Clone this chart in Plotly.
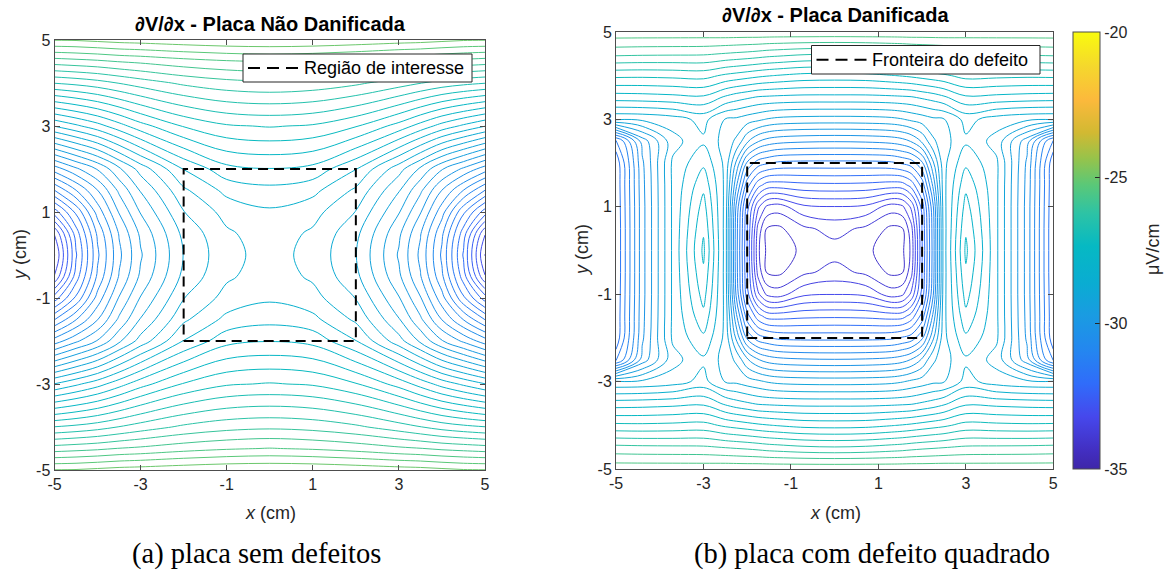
import plotly.graph_objects as go

# ---------------- data (uV/cm) ----------------
# Panel (a): undamaged plate, quadrant x>=0, y>=0 (field is symmetric in x and y)
xa_q = [0, 1, 2, 3, 3.5, 4, 4.5, 5]
ya_q = [0, 0.5, 1, 1.5, 2, 3, 4, 4.5, 5]
za_q = [
    [-28.40, -28.58, -28.99, -29.78, -30.31, -31.05, -32.03, -33.26],  # y=0
    [-28.37, -28.54, -28.93, -29.70, -30.23, -30.95, -31.88, -32.98],  # y=0.5
    [-28.29, -28.41, -28.76, -29.48, -29.98, -30.65, -31.45, -32.13],  # y=1
    [-28.08, -28.18, -28.55, -29.23, -29.70, -30.26, -30.76, -31.26],  # y=1.5
    [-27.76, -27.83, -28.24, -28.90, -29.30, -29.73, -30.05, -30.38],  # y=2
    [-26.98, -27.03, -27.23, -27.60, -27.85, -28.10, -28.30, -28.49],  # y=3
    [-26.05, -26.09, -26.20, -26.38, -26.49, -26.60, -26.68, -26.74],  # y=4
    [-25.49, -25.53, -25.60, -25.70, -25.74, -25.80, -25.84, -25.88],  # y=4.5
    [-24.78, -24.79, -24.83, -24.88, -24.90, -24.94, -24.98, -24.99],  # y=5
]

# Panel (b): damaged plate (square defect), quadrant x>=0, y>=0
xb_q = [0, 0.7, 1.3, 1.55, 1.75, 2.0, 2.25, 2.5, 3.0, 3.7, 4.4, 5.0]
yb_q = [0, 0.5, 1.0, 1.5, 2.0, 2.5, 3.0, 3.5, 4.0, 4.5, 5.0]
zb_q = [
    [-33.72, -33.84, -34.04, -33.96, -33.54, -32.12, -30.78, -28.92, -27.54, -28.74, -30.12, -31.79],  # y=0
    [-33.49, -33.66, -33.97, -33.92, -33.42, -32.08, -30.76, -28.92, -27.64, -28.74, -30.12, -31.79],  # y=0.5
    [-33.01, -33.06, -33.45, -33.36, -32.94, -31.98, -30.66, -28.90, -27.78, -28.74, -30.12, -31.77],  # y=1
    [-32.16, -32.18, -32.24, -32.22, -31.98, -31.38, -30.24, -28.88, -27.98, -28.74, -30.10, -31.75],  # y=1.5
    [-31.30, -31.30, -31.26, -31.16, -31.06, -30.66, -29.76, -28.88, -28.26, -28.74, -30.06, -31.72],  # y=2
    [-30.28, -30.26, -30.20, -30.12, -29.98, -29.65, -29.16, -28.92, -28.55, -28.92, -29.88, -31.30],  # y=2.5
    [-29.23, -29.22, -29.18, -29.12, -29.04, -28.96, -28.86, -28.82, -28.40, -28.64, -28.74, -28.76],  # y=3
    [-28.31, -28.31, -28.28, -28.26, -28.24, -28.16, -28.08, -27.96, -27.66, -27.70, -27.74, -27.76],  # y=3.5
    [-27.42, -27.40, -27.32, -27.28, -27.24, -27.18, -27.12, -27.06, -26.89, -26.92, -26.94, -26.93],  # y=4
    [-26.39, -26.36, -26.29, -26.26, -26.22, -26.18, -26.15, -26.12, -26.06, -26.05, -26.04, -26.02],  # y=4.5
    [-25.26, -25.26, -25.27, -25.27, -25.27, -25.28, -25.28, -25.28, -25.30, -25.30, -25.30, -25.30],  # y=5
]

# Region of interest / defect boundary (cm)
roi_x = [-2, 2, 2, -2, -2]
roi_y = [-2, -2, 2, 2, -2]

# Colour range, contour levels and ticks
c_min, c_max = -35, -20
levels_a = dict(start=-35.0, end=-20.0, size=0.25)
levels_b = dict(start=-34.8, end=-20.1, size=0.3)
cbar_ticks = [-35, -30, -25, -20]
axis_ticks = [-5, -3, -1, 1, 3, 5]


def full_axis(q):
    return [-v for v in reversed(q[1:])] + list(q)


def full_grid(zq):
    rows = [list(reversed(r[1:])) + list(r) for r in zq]
    return list(reversed(rows[1:])) + rows


xa, ya, za = full_axis(xa_q), full_axis(ya_q), full_grid(za_q)
xb, yb, zb = full_axis(xb_q), full_axis(yb_q), full_grid(zb_q)

parula = [
    [0.00, "rgb(62,38,168)"],
    [0.04, "rgb(66,46,192)"],
    [0.12, "rgb(70,72,236)"],
    [0.195, "rgb(48,108,250)"],
    [0.27, "rgb(36,134,240)"],
    [0.35, "rgb(26,155,226)"],
    [0.425, "rgb(10,172,210)"],
    [0.51, "rgb(6,185,195)"],
    [0.585, "rgb(45,195,165)"],
    [0.65, "rgb(90,200,120)"],
    [0.71, "rgb(150,195,75)"],
    [0.77, "rgb(210,185,50)"],
    [0.845, "rgb(252,185,60)"],
    [0.92, "rgb(245,215,45)"],
    [1.00, "rgb(249,251,14)"],
]

SANS = "Liberation Sans, Arial, Helvetica, sans-serif"
SERIF = "Liberation Serif, DejaVu Serif, serif"
TXT = "#262626"
AXC = "#4d4d4d"
W, H = 1167, 571


def px(x):
    return x / W


def py(y):
    return 1 - y / H


fig = go.Figure()

for xs, ys, zs, xr, yr, lv in [(xa, ya, za, "x", "y", levels_a), (xb, yb, zb, "x2", "y2", levels_b)]:
    fig.add_trace(go.Contour(
        x=xs, y=ys, z=zs, xaxis=xr, yaxis=yr,
        colorscale=parula, zmin=c_min, zmax=c_max, zauto=False,
        autocontour=False,
        contours=dict(coloring="lines", **lv),
        line=dict(width=1, smoothing=1.0),
        showscale=False, showlegend=False, hoverinfo="skip",
    ))

for xr, yr, nm in [("x", "y", "Região de interesse"), ("x2", "y2", "Fronteira do defeito")]:
    fig.add_trace(go.Scatter(
        x=roi_x, y=roi_y, xaxis=xr, yaxis=yr, mode="lines",
        line=dict(color="black", width=2, dash="10px,6px"),
        name=nm, showlegend=False, hoverinfo="skip",
    ))

# continuous colour bar
fig.add_trace(go.Scatter(
    x=[None, None], y=[None, None], xaxis="x2", yaxis="y2", mode="markers",
    marker=dict(
        color=[c_min, c_max], cmin=c_min, cmax=c_max, colorscale=parula,
        showscale=True,
        colorbar=dict(
            x=px(1072.5), xanchor="left", xpad=0, ypad=0,
            y=py(32), yanchor="top", len=437, lenmode="pixels",
            thickness=27, thicknessmode="pixels",
            outlinecolor=AXC, outlinewidth=1,
            tickvals=cbar_ticks, ticktext=[str(v) for v in cbar_ticks],
            ticks="inside", ticklen=5, tickcolor=TXT,
            tickfont=dict(family=SANS, size=16, color=TXT),
        ),
    ),
    showlegend=False, hoverinfo="skip",
))

axis_common = dict(
    range=[-5, 5], tickvals=axis_ticks, ticktext=[str(v) for v in axis_ticks],
    ticks="inside", ticklen=5, tickcolor=AXC, showline=True, linecolor=AXC,
    linewidth=1, mirror="ticks", showgrid=False, zeroline=False, automargin=False,
    tickfont=dict(family=SANS, size=16, color=TXT),
)

fig.update_layout(
    width=W, height=H,
    margin=dict(l=0, r=0, t=0, b=0, autoexpand=False),
    paper_bgcolor="white", plot_bgcolor="white",
    xaxis=dict(domain=[px(54.5), px(485)], anchor="y", **axis_common),
    yaxis=dict(domain=[py(470), py(40)], anchor="x", **axis_common),
    xaxis2=dict(domain=[px(616), px(1053.3)], anchor="y2", **axis_common),
    yaxis2=dict(domain=[py(469), py(32)], anchor="x2", **axis_common),
    showlegend=False,
)

shapes = []
ann = []

# legend boxes (box, dashed sample, label)
for (x0, x1, y0, y1, label) in [(243, 472, 54, 82, "Região de interesse"),
                                 (811.5, 1040, 45.5, 74, "Fronteira do defeito")]:
    shapes.append(dict(type="rect", xref="paper", yref="paper",
                       x0=px(x0), x1=px(x1), y0=py(y1), y1=py(y0),
                       line=dict(color=TXT, width=1), fillcolor="white", layer="above"))
    ym = (y0 + y1) / 2
    shapes.append(dict(type="line", xref="paper", yref="paper",
                       x0=px(x0 + 5), x1=px(x0 + 55), y0=py(ym), y1=py(ym),
                       line=dict(color="black", width=2, dash="12px,7px"), layer="above"))
    ann.append(dict(text=label, x=px(x0 + 59), y=py(ym), xref="paper", yref="paper",
                    showarrow=False, xanchor="left", yanchor="middle",
                    font=dict(family=SANS, size=18, color="black")))

# panel titles
ann.append(dict(text="<b>∂V/∂x - Placa Não Danificada</b>", x=px(270), y=py(24),
                xref="paper", yref="paper", showarrow=False, xanchor="center", yanchor="middle",
                font=dict(family=SANS, size=20, color="black")))
ann.append(dict(text="<b>∂V/∂x - Placa Danificada</b>", x=px(835), y=py(15.5),
                xref="paper", yref="paper", showarrow=False, xanchor="center", yanchor="middle",
                font=dict(family=SANS, size=20, color="black")))
# axis titles
for cx in [270, 835]:
    ann.append(dict(text="<i>x</i> (cm)", x=px(cx), y=py(513), xref="paper", yref="paper",
                    showarrow=False, xanchor="center", yanchor="middle",
                    font=dict(family=SANS, size=18, color=TXT)))
for cyx, cy in [(20, 255), (582, 250)]:
    ann.append(dict(text="<i>y</i> (cm)", x=px(cyx), y=py(cy), xref="paper", yref="paper",
                    showarrow=False, xanchor="center", yanchor="middle", textangle=-90,
                    font=dict(family=SANS, size=18, color=TXT)))
# colour bar title
ann.append(dict(text="μV/cm", x=px(1153), y=py(250), xref="paper", yref="paper",
                showarrow=False, xanchor="center", yanchor="middle", textangle=-90,
                font=dict(family=SANS, size=18, color=TXT)))
# captions
ann.append(dict(text="(a) placa sem defeitos", x=px(256), y=py(554), xref="paper", yref="paper",
                showarrow=False, xanchor="center", yanchor="middle",
                font=dict(family=SERIF, size=28.5, color="black")))
ann.append(dict(text="(b) placa com defeito quadrado", x=px(872), y=py(554), xref="paper", yref="paper",
                showarrow=False, xanchor="center", yanchor="middle",
                font=dict(family=SERIF, size=28.5, color="black")))

fig.update_layout(annotations=ann, shapes=shapes)

fig.write_html("out.html")
